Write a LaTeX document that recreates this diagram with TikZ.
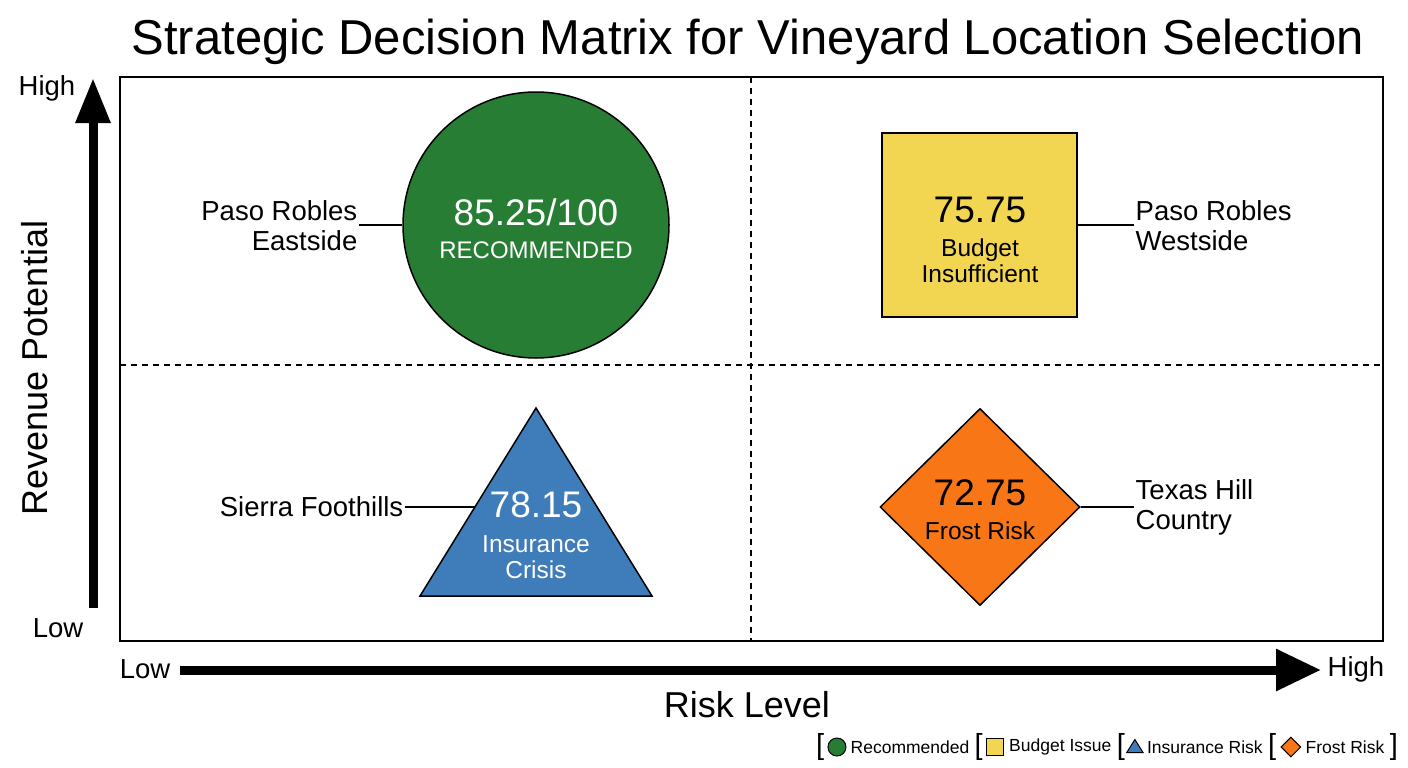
\documentclass[tikz,border=0pt]{standalone}
\usepackage{fontspec}
\setmainfont{Liberation Sans}
\usetikzlibrary{arrows.meta,shapes.geometric}
\definecolor{cgreen}{RGB}{40,125,52}
\definecolor{cyellow}{RGB}{242,214,82}
\definecolor{cblue}{RGB}{62,124,186}
\definecolor{corange}{RGB}{248,118,22}
\begin{document}
\begin{tikzpicture}[x=1pt,y=-1pt,
  lbl/.style={font=\fontsize{27.5}{30}\selectfont, inner sep=1.5pt},
  num/.style={font=\fontsize{37}{40}\selectfont, inner sep=0pt},
  sub/.style={font=\fontsize{24.5}{26}\selectfont, inner sep=0pt, align=center},
  conn/.style={line width=1.2pt},
  shp/.style={draw=black, line width=1.5pt, inner sep=0pt},
  axis/.style={line width=9pt},
  quad/.style={line width=1.1pt, dash pattern=on 6pt off 5pt},
  legt/.style={font=\fontsize{17.5}{20}\selectfont, inner sep=0pt, anchor=west},
  legb/.style={font=\fontsize{29}{30}\selectfont, inner sep=0pt, anchor=west},
  legi/.style={draw=black, line width=1pt, inner sep=0pt}
]
\useasboundingbox (0,0) rectangle (1408,768);

% title
\node[font=\fontsize{49}{52}\selectfont, inner sep=0pt] (title) at (748,42) {Strategic Decision Matrix for Vineyard Location Selection};

% frame and quadrant lines
\draw[line width=2pt] (120,77) rectangle (1383,641);
\draw[quad] (751,77) -- (751,641);
\draw[quad] (120,365) -- (1383,365);

% vertical axis
\coordinate (ybot) at (93,608);
\coordinate (ytop) at (93,78);
\draw[axis, -{Triangle[length=45pt,width=33pt]}] (ybot) -- (ytop);
\node[lbl] (yhigh) at (47,88) {High};
\node[lbl] (ylow) at (58,628) {Low};
\node[font=\fontsize{36}{40}\selectfont, rotate=90, inner sep=0pt] (ylab) at (35,368) {Revenue Potential};

% horizontal axis
\coordinate (xl) at (180,670);
\coordinate (xr) at (1321,670);
\draw[axis, -{Triangle[length=45pt,width=40pt]}] (xl) -- (xr);
\node[lbl] (xlow) at (145,669) {Low};
\node[lbl] (xhigh) at (1356,669) {High};
\node[font=\fontsize{36}{40}\selectfont, inner sep=0pt] (xlab) at (747,705) {Risk Level};

% Paso Robles Eastside
\node[shp, circle, fill=cgreen, minimum size=266pt] (circ) at (536,225) {};
\node[num, text=white] (n1) at (536,212) {85.25/100};
\node[sub, text=white, font=\fontsize{24}{26}\selectfont] (s1) at (536,250) {RECOMMENDED};
\node[lbl, align=right, anchor=east] (pre) at (359,226) {Paso Robles\\Eastside};
\draw[conn] (circ.west -| pre.east) -- (circ.west);

% Paso Robles Westside
\node[shp, rectangle, fill=cyellow, minimum width=195pt, minimum height=184pt] (sq) at (979.5,225) {};
\node[num] (n2) at (980,210) {75.75};
\node[sub] (s2) at (980,261) {Budget\\Insufficient};
\node[lbl, align=left, anchor=west] (pwl) at (1134,226) {Paso Robles\\Westside};
\draw[conn] (sq.east) -- (sq.east -| pwl.west);

% Sierra Foothills
\coordinate (tA) at (536,408);
\coordinate (tB) at (652,596);
\coordinate (tC) at (420,596);
\coordinate (tril) at (475,507);
\draw[fill=cblue, line width=1.5pt, line join=miter] (tA) -- (tB) -- (tC) -- cycle;
\node[num, text=white] (n3) at (536,505) {78.15};
\node[sub, text=white] (s3) at (536,557) {Insurance\\Crisis};
\node[lbl, anchor=east] (sfl) at (405,507) {Sierra Foothills};
\draw[conn] (tril -| sfl.east) -- (tril);

% Texas Hill Country
\node[shp, diamond, fill=corange, minimum width=200pt, minimum height=197pt] (dia) at (980,507) {};
\node[num] (n4) at (980,493) {72.75};
\node[sub] (s4) at (980,531) {Frost Risk};
\node[lbl, align=left, anchor=west] (thl) at (1134,507) {Texas Hill\\Country};
\draw[conn] (dia.east) -- (dia.east -| thl.west);

% legend
\node[legb] (lb1) at (816,747) {[};
\node[legi, circle, fill=cgreen, minimum size=18pt, anchor=west] (li1) at ([xshift=3pt]lb1.east) {};
\node[legt] (lt1) at ([xshift=4pt]li1.east) {Recommended};
\node[legb] (lb2) at ([xshift=5pt]lt1.east) {[};
\node[legi, rectangle, fill=cyellow, minimum size=17pt, anchor=west] (li2) at ([xshift=3pt]lb2.east) {};
\node[legt] (lt2) at ([xshift=5pt]li2.east) {Budget Issue};
\node[legb] (lb3) at ([xshift=5pt]lt2.east) {[};
\node[legi, isosceles triangle, shape border rotate=90, isosceles triangle apex angle=64, fill=cblue, minimum size=13pt, anchor=west] (li3) at ([xshift=4pt, yshift=-1pt]lb3.east) {};
\node[legt] (lt3) at ([xshift=6pt, yshift=1pt]li3.east) {Insurance Risk};
\node[legb] (lb4) at ([xshift=5pt]lt3.east) {[};
\node[legi, diamond, fill=corange, minimum size=20pt, anchor=west] (li4) at ([xshift=4pt]lb4.east) {};
\node[legt] (lt4) at ([xshift=4pt]li4.east) {Frost Risk};
\node[legb] (lb5) at ([xshift=5pt]lt4.east) {]};
\end{tikzpicture}
\end{document}
